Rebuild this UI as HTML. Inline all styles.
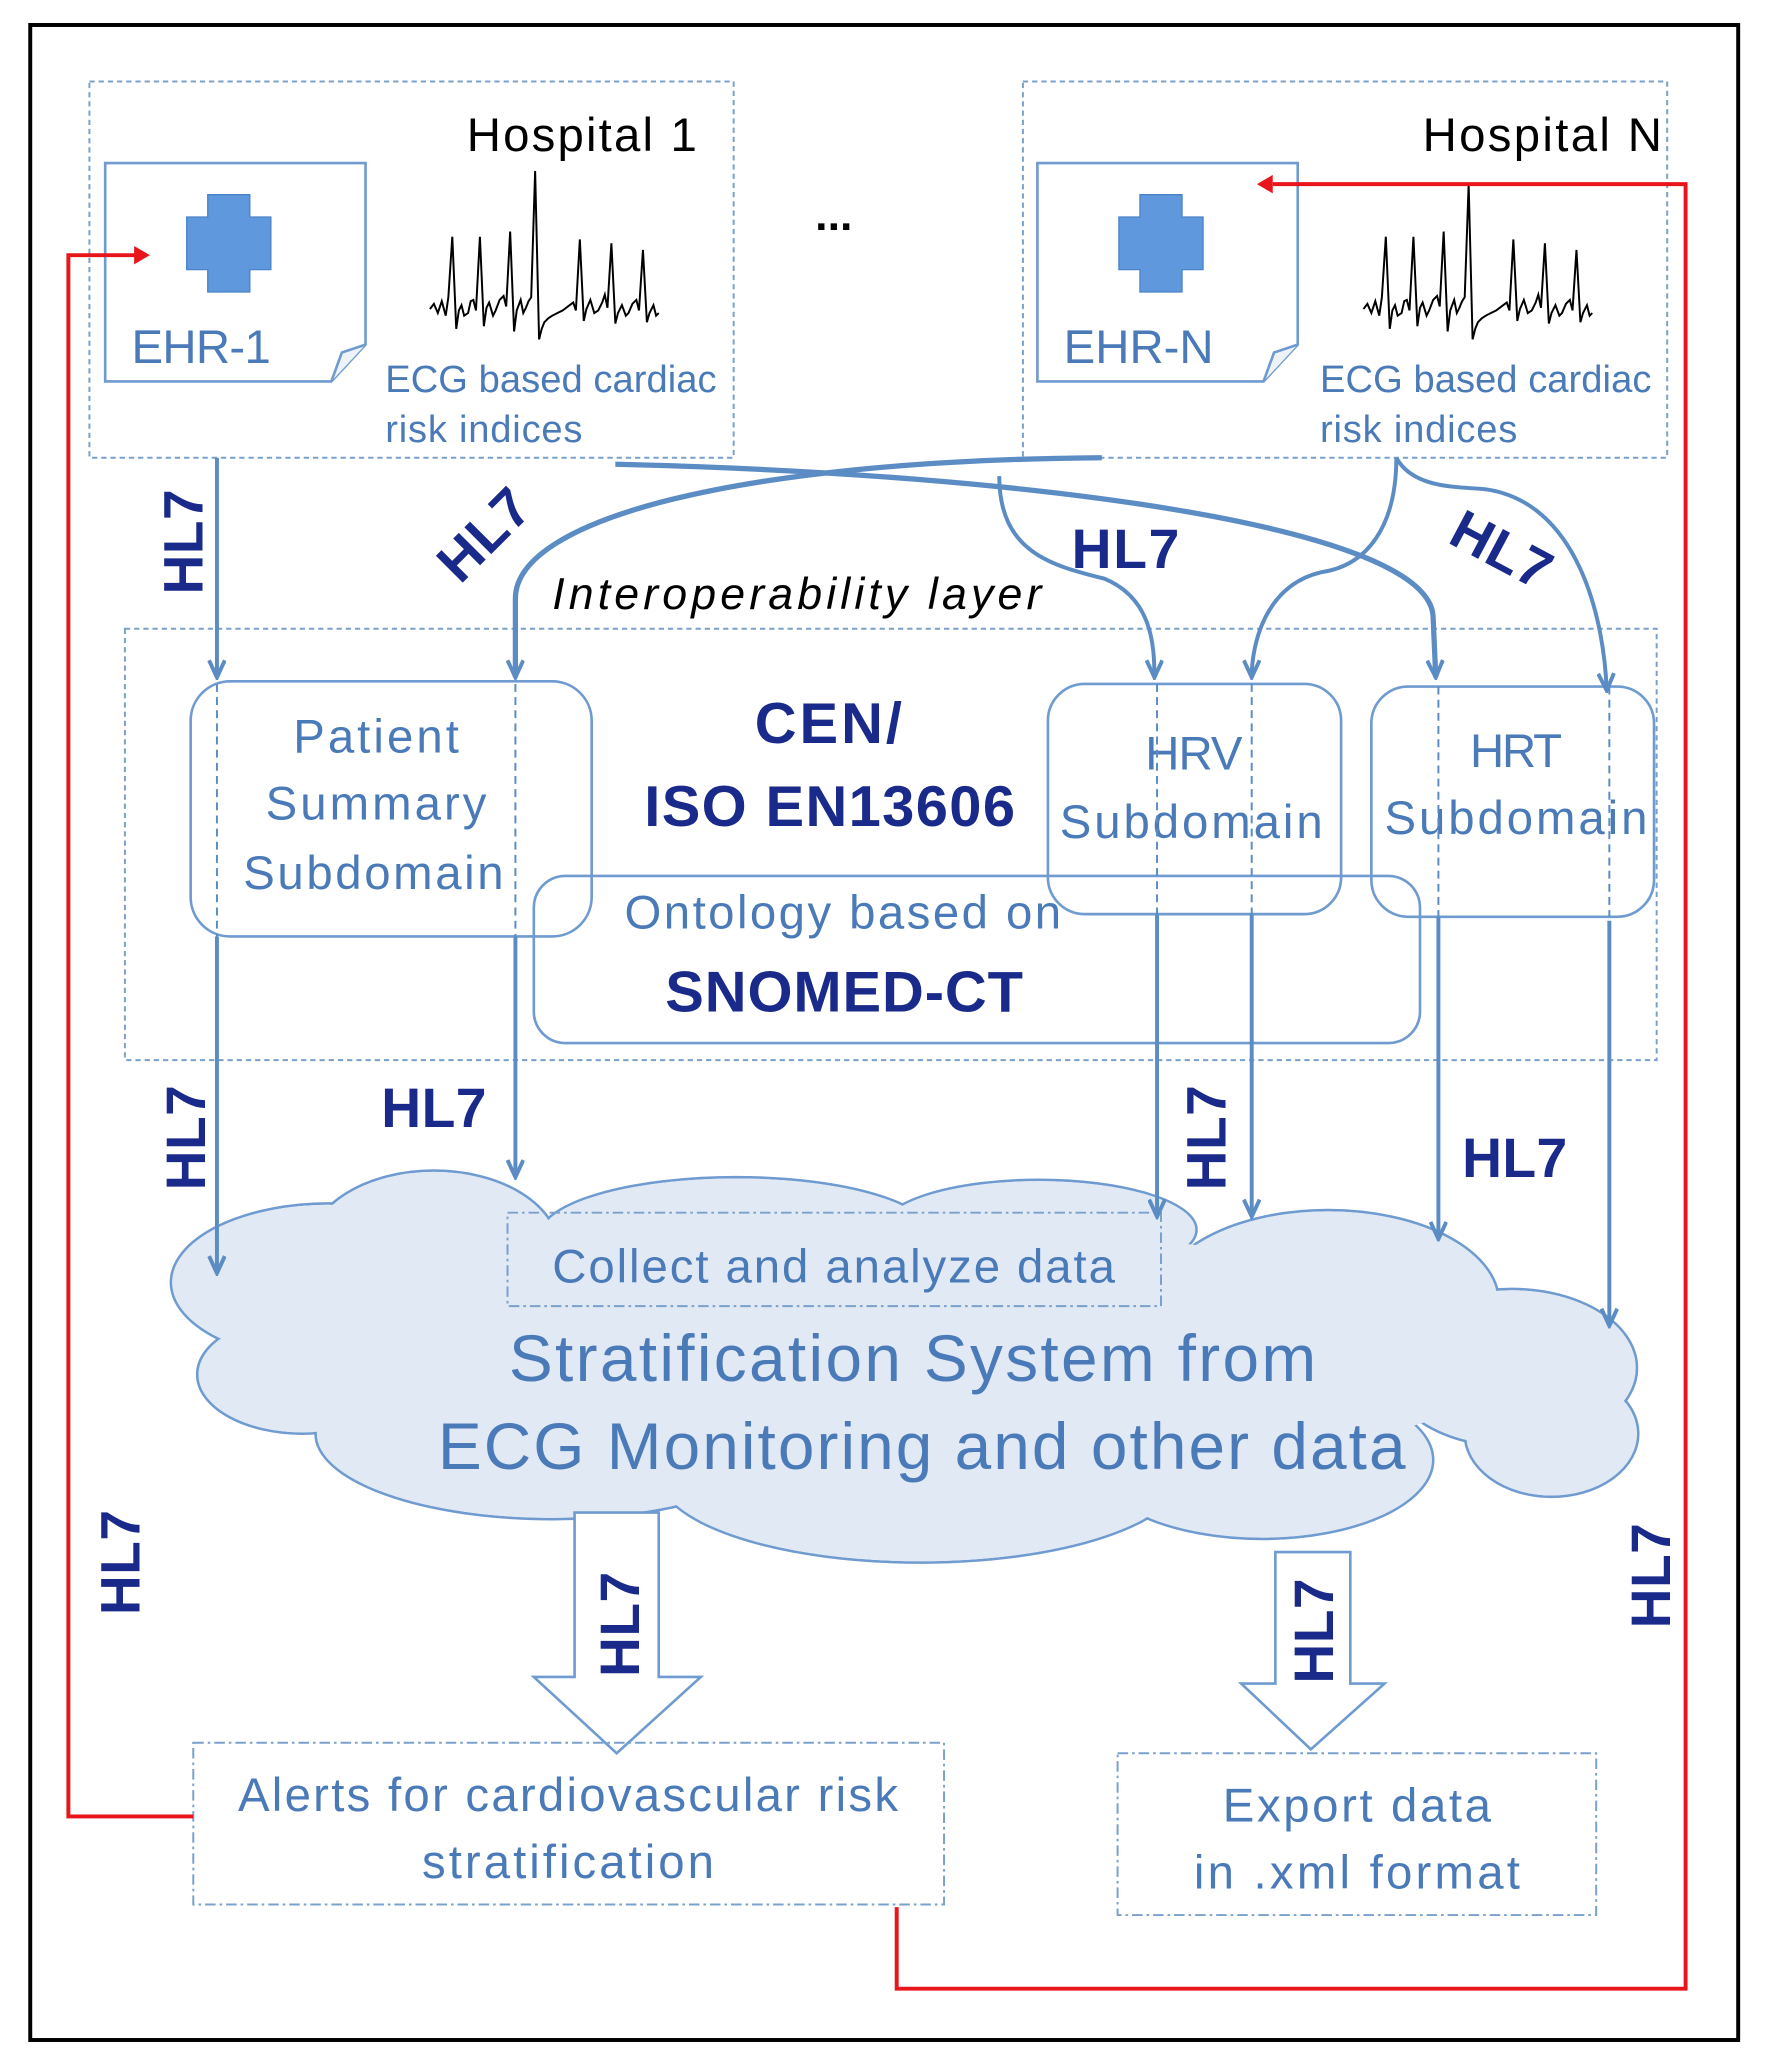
<!DOCTYPE html>
<html><head><meta charset="utf-8"><style>
html,body{margin:0;padding:0;background:#fff;}
svg{display:block;}
text{font-family:"Liberation Sans",sans-serif;}
</style></head><body>
<svg width="1775" height="2065" viewBox="0 0 1350 1570" preserveAspectRatio="none" xmlns="http://www.w3.org/2000/svg">
<defs>
<marker id="ab" markerWidth="16" markerHeight="14" refX="14" refY="7" orient="auto" markerUnits="userSpaceOnUse" viewBox="0 0 16 14"><path d="M1,1 L14,7 L1,13" fill="none" stroke="#5b8cc4" stroke-width="3"/></marker>
</defs>
<rect x="0" y="0" width="1350" height="1570" fill="#fff"/>
<rect x="23" y="19" width="1299" height="1532" fill="none" stroke="#000" stroke-width="3"/>

<g fill="none" stroke="#7aa0cc" stroke-width="1.5" stroke-dasharray="4,3">
<rect x="68" y="62" width="490" height="286"/>
<rect x="778" y="62" width="490" height="286"/>
<rect x="95" y="478" width="1165" height="328"/>
</g>
<text x="355" y="115" font-size="36" fill="#000" textLength="175">Hospital 1</text>
<text x="1082" y="115" font-size="36" fill="#000" textLength="182">Hospital N</text>
<text x="620" y="175" font-size="34" font-weight="bold" fill="#000">...</text>

<g fill="#fff" stroke="#6f9bd0" stroke-width="2">
<path d="M80,124 H278 V262 L252,290 H80 Z"/>
<path d="M252,290 L260,268 L278,262" fill="#eef3fa"/>
<path d="M789,124 H987 V262 L961,290 H789 Z"/>
<path d="M961,290 L969,268 L987,262" fill="#eef3fa"/>
</g>
<g fill="#5f98dc" stroke="#4a84c8" stroke-width="1">
<path d="M158,148 H190 V165 H206 V205 H190 V222 H158 V205 H142 V165 H158 Z"/>
<path d="M867,148 H899 V165 H915 V205 H899 V222 H867 V205 H851 V165 H867 Z"/>
</g>
<text x="100" y="276" font-size="36" fill="#4a7ab8" textLength="106">EHR-1</text>
<text x="809" y="276" font-size="36" fill="#4a7ab8" textLength="114">EHR-N</text>

<g fill="none" stroke="#000" stroke-width="1.5">
<polyline points="327,235 330,231 333,238 336,229 339,240 341,226 344,180 347,250 349,236 351,232 353,240 356,238 358,229 360,228 362,236 365,180 368,248 370,234 372,230 375,240 377,236 380,228 383,225 385,233 388,176 391,252 393,236 396,228 398,238 400,234 402,229 404,226 407,130 410,258 412,250 414,245 417,242 420,240 424,238 428,236 432,233 436,230 438,236 441,182 444,244 446,235 449,228 452,238 455,236 458,230 460,224 462,234 465,185 468,246 470,238 473,232 476,240 478,238 481,231 484,228 486,236 489,190 492,245 494,238 497,232 499,240 501,238"/>
<polyline points="1037,235 1040,231 1043,238 1046,229 1049,240 1051,226 1054,180 1057,250 1059,236 1061,232 1063,240 1066,238 1068,229 1070,228 1072,236 1075,180 1078,248 1080,234 1082,230 1085,240 1087,236 1090,228 1093,225 1095,233 1098,176 1101,252 1103,236 1106,228 1108,238 1110,234 1112,229 1114,226 1117,140 1120,258 1122,250 1124,245 1127,242 1130,240 1134,238 1138,236 1142,233 1146,230 1148,236 1151,182 1154,244 1156,235 1159,228 1162,238 1165,236 1168,230 1170,224 1172,234 1175,185 1178,246 1180,238 1183,232 1186,240 1188,238 1191,231 1194,228 1196,236 1199,190 1202,245 1204,238 1207,232 1209,240 1211,238"/>
</g>
<g font-size="29" fill="#4a7ab8">
<text x="293" y="298" textLength="252">ECG based cardiac</text>
<text x="293" y="336" textLength="150">risk indices</text>
<text x="1004" y="298" textLength="252">ECG based cardiac</text>
<text x="1004" y="336" textLength="150">risk indices</text>
</g>

<text x="420" y="463" font-size="34" font-style="italic" fill="#000" textLength="372">Interoperability layer</text>

<g fill="none" stroke="#6f9bd0" stroke-width="2">
<rect x="145" y="518" width="305" height="194" rx="30"/>
<rect x="797" y="520" width="223" height="175" rx="28"/>
<rect x="1043" y="522" width="215" height="175" rx="28"/>
<rect x="406" y="666" width="674" height="127" rx="24"/>
</g>
<g font-size="36" fill="#4a7ab8" text-anchor="middle">
<text x="286" y="572" textLength="126">Patient</text>
<text x="286" y="623" textLength="168">Summary</text>
<text x="284" y="676" textLength="198">Subdomain</text>
<text x="908" y="585" textLength="74">HRV</text>
<text x="906" y="637" textLength="200">Subdomain</text>
<text x="1153" y="583" textLength="70">HRT</text>
<text x="1153" y="634" textLength="200">Subdomain</text>
<text x="641" y="706" textLength="332">Ontology based on</text>
</g>
<g font-size="44" font-weight="bold" fill="#1a2a8a" text-anchor="middle">
<text x="630" y="565" textLength="112">CEN/</text>
<text x="631" y="628" textLength="282">ISO EN13606</text>
<text x="642" y="769" textLength="272">SNOMED-CT</text>
</g>

<g stroke="#5b8cc4" stroke-width="1.5" stroke-dasharray="6,4">
<line x1="165" y1="520" x2="165" y2="712"/>
<line x1="392" y1="520" x2="392" y2="712"/>
<line x1="880" y1="520" x2="880" y2="695"/>
<line x1="952" y1="520" x2="952" y2="695"/>
<line x1="1094" y1="522" x2="1094" y2="697"/>
<line x1="1224" y1="522" x2="1224" y2="697"/>
</g>

<g fill="none" stroke="#6f9bd0" stroke-width="2">
<ellipse cx="250" cy="975" rx="120" ry="60"/>
<ellipse cx="330" cy="950" rx="95" ry="60"/>
<ellipse cx="560" cy="940" rx="150" ry="45"/>
<ellipse cx="790" cy="935" rx="120" ry="38"/>
<ellipse cx="1010" cy="990" rx="130" ry="70"/>
<ellipse cx="1150" cy="1040" rx="95" ry="60"/>
<ellipse cx="1180" cy="1090" rx="66" ry="48"/>
<ellipse cx="230" cy="1045" rx="80" ry="45"/>
<ellipse cx="420" cy="1090" rx="180" ry="65"/>
<ellipse cx="700" cy="1120" rx="200" ry="68"/>
<ellipse cx="960" cy="1110" rx="130" ry="60"/>
</g>
<g fill="#e1e9f4">
<ellipse cx="250" cy="975" rx="119" ry="59"/>
<ellipse cx="330" cy="950" rx="94" ry="59"/>
<ellipse cx="560" cy="940" rx="149" ry="44"/>
<ellipse cx="790" cy="935" rx="119" ry="37"/>
<ellipse cx="1010" cy="990" rx="129" ry="69"/>
<ellipse cx="1150" cy="1040" rx="94" ry="59"/>
<ellipse cx="1180" cy="1090" rx="65" ry="47"/>
<ellipse cx="230" cy="1045" rx="79" ry="44"/>
<ellipse cx="420" cy="1090" rx="179" ry="64"/>
<ellipse cx="700" cy="1120" rx="199" ry="67"/>
<ellipse cx="960" cy="1110" rx="129" ry="59"/>
<ellipse cx="680" cy="1030" rx="480" ry="95"/>
</g>
<rect x="386" y="922" width="497" height="71" fill="none" stroke="#7aa0cc" stroke-width="1.5" stroke-dasharray="8,3,2,3"/>
<text x="634" y="975" font-size="36" fill="#4a7ab8" text-anchor="middle" textLength="428">Collect and analyze data</text>
<text x="694" y="1050" font-size="50" fill="#4a7ab8" text-anchor="middle" textLength="614">Stratification System from</text>
<text x="701" y="1117" font-size="50" fill="#4a7ab8" text-anchor="middle" textLength="736">ECG Monitoring and other data</text>

<g fill="none" stroke="#5b8cc4" stroke-width="3" marker-end="url(#ab)">
<line x1="165" y1="348" x2="165" y2="515"/>
<line x1="165" y1="712" x2="165" y2="968"/>
<line x1="392" y1="712" x2="392" y2="895"/>
<line x1="880" y1="695" x2="880" y2="925"/>
<line x1="952" y1="695" x2="952" y2="925"/>
<line x1="1094" y1="697" x2="1094" y2="942"/>
<line x1="1224" y1="700" x2="1224" y2="1008"/>
<path d="M838,348 C560,350 392,395 392,455 L392,515" stroke-width="4"/>
<path d="M468,353 C780,360 1090,400 1090,470 L1092,515" stroke-width="4"/>
<path d="M760,362 C760,420 800,430 840,440 C876,455 878,490 878,515"/>
<path d="M1062,348 C1062,400 1040,430 1005,435 C962,445 952,490 952,515"/>
<path d="M1062,348 C1075,372 1110,370 1130,372 C1200,382 1220,470 1222,525"/>
</g>

<g fill="#fff" stroke="#6f9bd0" stroke-width="2">
<path d="M437,1150 H501 V1275 H533 L469,1333 L406,1275 H437 Z"/>
<path d="M970,1180 H1027 V1280 H1053 L997,1330 L944,1280 H970 Z"/>
</g>

<g fill="none" stroke="#7aa0cc" stroke-width="1.5" stroke-dasharray="8,3,2,3">
<rect x="147" y="1325" width="571" height="123"/>
<rect x="850" y="1333" width="364" height="123"/>
</g>
<g font-size="36" fill="#4a7ab8" text-anchor="middle">
<text x="432" y="1377" textLength="502">Alerts for cardiovascular risk</text>
<text x="432" y="1428" textLength="222">stratification</text>
<text x="1032" y="1385" textLength="204">Export data</text>
<text x="1032" y="1436" textLength="248">in .xml format</text>
</g>

<g fill="none" stroke="#e8151b" stroke-width="3">
<polyline points="147,1381 52,1381 52,194 104,194"/>
<polyline points="682,1450 682,1512 1282,1512 1282,140 968,140"/>
</g>
<path d="M114,194 L102,187 L102,201 Z" fill="#e8151b"/>
<path d="M956,140 L968,133 L968,147 Z" fill="#e8151b"/>

<g font-size="42" font-weight="bold" fill="#1a2a8a">
<text transform="translate(154,452) rotate(-90)" textLength="80">HL7</text>
<text transform="translate(350,445) rotate(-45)" textLength="80">HL7</text>
<text x="815" y="432" textLength="82">HL7</text>
<text transform="translate(1100,412) rotate(28)" textLength="80">HL7</text>
<text transform="translate(156,905) rotate(-90)" textLength="80">HL7</text>
<text x="290" y="857" textLength="80">HL7</text>
<text transform="translate(932,905) rotate(-90)" textLength="80">HL7</text>
<text x="1112" y="895" textLength="80">HL7</text>
<text transform="translate(106,1228) rotate(-90)" textLength="80">HL7</text>
<text transform="translate(486,1275) rotate(-90)" textLength="80">HL7</text>
<text transform="translate(1014,1280) rotate(-90)" textLength="80">HL7</text>
<text transform="translate(1270,1238) rotate(-90)" textLength="80">HL7</text>
</g>
</svg>
</body></html>
